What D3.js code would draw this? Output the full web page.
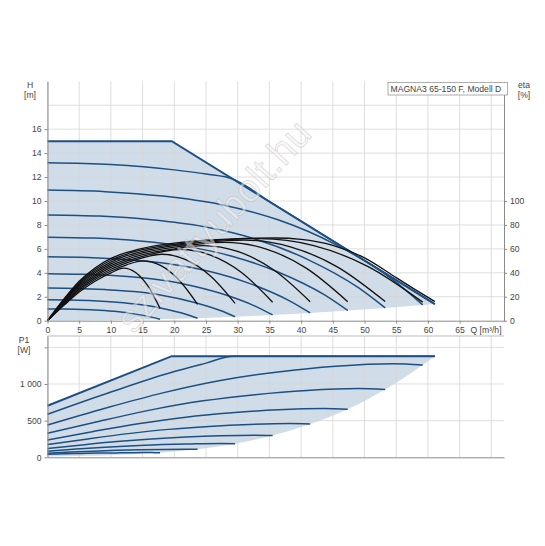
<!DOCTYPE html>
<html>
<head>
<meta charset="utf-8">
<script src="https://cdn.jsdelivr.net/npm/d3@7"></script>
<style>
  body { margin: 0; background: #fff; }
  text { font-family: "Liberation Sans", Arial, sans-serif; }
</style>
</head>
<body>
<div id="chart"></div>
<script>
// ---------- data ----------
// Q-H: limit curve, speed curves, lower limit
const qhMax = [[0, 15], [19.6, 15], [61.1, 1.39]]
const qh11 = [[0, 13.2], [10, 13.05], [20, 12.6], [25, 12.25], [29.3, 11.82], [35, 9.95], [45, 6.67], [55, 3.39], [61.1, 1.39]]
const qh10 = [[0, 10.91], [9.09, 10.78], [18.18, 10.41], [27.27, 9.71], [36.36, 8.43], [45.45, 6.36], [54.55, 3.39], [59.18, 1.32]]
const qh9 = [[0, 8.84], [8.18, 8.74], [16.36, 8.43], [24.55, 7.87], [32.73, 6.83], [40.91, 5.15], [49.09, 2.74], [53.26, 1.07]]
const qh8 = [[0, 6.98], [7.27, 6.9], [14.55, 6.66], [21.82, 6.21], [29.09, 5.39], [36.36, 4.07], [43.64, 2.17], [47.35, 0.85]]
const qh7 = [[0, 5.35], [6.36, 5.29], [12.73, 5.1], [19.09, 4.76], [25.45, 4.13], [31.82, 3.12], [38.18, 1.66], [41.43, 0.65]]
const qh6 = [[0, 3.93], [5.45, 3.88], [10.91, 3.75], [16.36, 3.5], [21.82, 3.03], [27.27, 2.29], [32.73, 1.22], [35.51, 0.48]]
const qh5 = [[0, 2.73], [4.55, 2.7], [9.09, 2.6], [13.64, 2.43], [18.18, 2.11], [22.73, 1.59], [27.27, 0.85], [29.59, 0.33]]
const qh4 = [[0, 1.75], [3.64, 1.73], [7.27, 1.67], [10.91, 1.55], [14.55, 1.35], [18.18, 1.02], [21.82, 0.54], [23.67, 0.21]]
const qh3 = [[0, 0.98], [2.73, 0.97], [5.45, 0.94], [8.18, 0.87], [10.91, 0.76], [13.64, 0.57], [16.36, 0.3], [17.75, 0.12]]
const qhMin = [[0, 0], [17.75, 0.12], [23.67, 0.21], [29.59, 0.33], [35.51, 0.48], [41.43, 0.65], [47.35, 0.85], [53.26, 1.07], [59.18, 1.32], [61.1, 1.39]]

// efficiency (right axis, %)
const eta3 = [[0, 0], [2.5, 12.4], [5, 24], [7.5, 33], [10, 40], [12, 44], [13.9, 40.3], [15.8, 29.3], [17.75, 10.3]]
const eta4 = [[0, 0], [2.5, 13], [5, 25.2], [7.5, 34.4], [10, 41.5], [12.5, 46.7], [15, 50], [17.9, 46], [20.7, 34.2], [23.67, 13.7]]
const eta5 = [[0, 0], [2.5, 13.7], [5, 26.5], [7.5, 35.8], [10, 43], [12.5, 48.3], [15, 52.5], [18, 55.5], [21.8, 51], [25.7, 37.4], [29.59, 14.5]]
const eta6 = [[0, 0], [2.5, 14.4], [5, 27.8], [7.5, 37.2], [10, 44.5], [12.5, 49.8], [15, 53.8], [21, 59.5], [25.8, 54.6], [30.6, 40.3], [35.51, 15.4]]
const eta7 = [[0, 0], [2.5, 15], [5, 29], [7.5, 38.6], [10, 46], [12.5, 51.3], [15, 55.2], [20, 60], [24.5, 62.8], [30.1, 57.7], [35.7, 42.4], [41.43, 15.9]]
const eta8 = [[0, 0], [2.5, 15.7], [5, 30], [7.5, 40], [10, 47.5], [12.5, 52.8], [15, 56.6], [20, 61.4], [28, 65.5], [34.4, 60.1], [40.8, 43.9], [47.35, 15.9]]
const eta9 = [[0, 0], [2.5, 16.3], [5, 31], [7.5, 41.3], [10, 49], [12.5, 54.3], [15, 58], [20, 62.7], [25, 65.6], [31, 67.3], [38.3, 61.7], [45.7, 45], [53.26, 16]]
const eta10 = [[0, 0], [2.5, 17], [5, 32], [7.5, 42.7], [10, 50.5], [12.5, 55.7], [15, 59.3], [20, 63.8], [25, 66.5], [33.5, 68.5], [42, 62.7], [50.5, 45.4], [59.18, 15.5]]
const eta11 = [[0, 0], [2.5, 17.5], [5, 33], [7.5, 44], [10, 52], [12.5, 57], [15, 60.5], [20, 64.8], [25, 67.2], [30, 68.6], [36, 69.1], [40, 68], [45, 63], [50, 52.5], [55, 36], [58, 26], [61.1, 16]]

// P1 power input (W)
const pMax = [[0, 704], [19.6, 1380], [61.1, 1380]]
const p11 = [[0, 586], [10, 890], [20, 1170], [25, 1285], [29.3, 1380], [61.1, 1380]]
const p10 = [[0, 440], [9.09, 669], [18.18, 879], [27.27, 1048], [36.36, 1165], [45.45, 1243], [54.55, 1277], [59.18, 1259]]
const p9 = [[0, 327], [8.18, 493], [16.36, 647], [24.55, 770], [32.73, 855], [40.91, 912], [49.09, 937], [53.26, 924]]
const p8 = [[0, 236], [7.27, 353], [14.55, 461], [21.82, 548], [29.09, 607], [36.36, 648], [43.64, 665], [47.35, 656]]
const p7 = [[0, 173], [6.36, 251], [12.73, 323], [19.09, 381], [25.45, 421], [31.82, 448], [38.18, 460], [41.43, 454]]
const p6 = [[0, 120], [5.45, 169], [10.91, 215], [16.36, 251], [21.82, 277], [27.27, 294], [32.73, 301], [35.51, 297]]
const p5 = [[0, 83], [4.55, 112], [9.09, 138], [13.64, 159], [18.18, 174], [22.73, 183], [27.27, 188], [29.59, 185]]
const p4 = [[0, 56], [3.64, 71], [7.27, 84], [10.91, 95], [14.55, 103], [18.18, 108], [21.82, 110], [23.67, 109]]
const p3 = [[0, 41], [2.73, 47], [5.45, 53], [8.18, 57], [10.91, 60], [13.64, 63], [16.36, 64], [17.75, 63]]
const pMin = [[0, 10], [17.75, 63], [23.67, 109], [29.59, 185], [35.51, 297], [41.43, 454], [47.35, 656], [53.26, 924], [59.18, 1259], [61.1, 1380]]

const qTicks = [0, 5, 10, 15, 20, 25, 30, 35, 40, 45, 50, 55, 60, 65]
const qGrid = [0, 5, 10, 15, 20, 25, 30, 35, 40, 45, 50, 55, 60, 65, 70]
const hTicks = [0, 2, 4, 6, 8, 10, 12, 14, 16]
const hGrid = [2, 4, 6, 8, 10, 12, 14, 16, 18]
const etaTicks = [0, 20, 40, 60, 80, 100]
const pTicks = [0, 500, 1000, 1500]

// ---------- layout ----------
const W = 545, H = 546
const LEFT = 47.5, RIGHT = 504
const TOP1 = 81.3, BOT1 = 320.7
const TOP2 = 336, BOT2 = 457.3

const BLUE = "#1d4f82"
const SHADE = "#d0dde9"
const GRID = "#d6d6d6"
const AXIS = "#8a8a8a"
const TXT = "#444"
const FS = "8.6px"

const svg = d3.select("#chart").append("svg")
  .attr("width", W)
  .attr("height", H)

// scales
const x = d3.scaleLinear().domain([0, 72]).range([LEFT, RIGHT])
const yH = d3.scaleLinear().domain([0, 20]).range([BOT1, TOP1])
const yEta = d3.scaleLinear().domain([0, 200]).range([BOT1, TOP1])
const yP = d3.scaleLinear().domain([0, 1655]).range([BOT2, TOP2])

const smooth = (ys) => d3.line().x(d => x(d[0])).y(d => ys(d[1])).curve(d3.curveMonotoneX)
const straight = (ys) => d3.line().x(d => x(d[0])).y(d => ys(d[1]))

// shaded operating range: lower limit forward, then back over the max curve
function rangePath(minPts, maxPts, ys) {
  let d = smooth(ys)(minPts)
  maxPts.slice().reverse().slice(1).forEach(p => { d += `L${x(p[0])},${ys(p[1])}` })
  return d + "Z"
}

/******************** upper chart: Q-H and eta ********************/
const g1 = svg.append("g")

g1.append("path")
  .attr("d", rangePath(qhMin, qhMax, yH))
  .attr("fill", SHADE)

// grid
g1.selectAll(".vg").data(qGrid).enter().append("line")
  .attr("x1", d => x(d)).attr("x2", d => x(d))
  .attr("y1", TOP1).attr("y2", BOT1)
  .attr("stroke", GRID).attr("stroke-opacity", 0.8)
g1.selectAll(".hg").data(hGrid).enter().append("line")
  .attr("x1", LEFT).attr("x2", RIGHT)
  .attr("y1", d => yH(d)).attr("y2", d => yH(d))
  .attr("stroke", GRID).attr("stroke-opacity", 0.8)

// speed curves
const qhCurves = [qh3, qh4, qh5, qh6, qh7, qh8, qh9, qh10, qh11]
g1.selectAll(".qh").data(qhCurves).enter().append("path")
  .attr("d", smooth(yH))
  .attr("fill", "none")
  .attr("stroke", BLUE)
  .attr("stroke-width", 1.5)
g1.append("path")
  .attr("d", straight(yH)(qhMax))
  .attr("fill", "none")
  .attr("stroke", BLUE)
  .attr("stroke-width", 2)

// efficiency curves
const etaCurves = [eta3, eta4, eta5, eta6, eta7, eta8, eta9, eta10, eta11]
g1.selectAll(".eta").data(etaCurves).enter().append("path")
  .attr("d", smooth(yEta))
  .attr("fill", "none")
  .attr("stroke", "#111")
  .attr("stroke-width", 1.3)

// axes
const styleAxis = sel => {
  sel.selectAll("path").attr("stroke", AXIS)
  sel.selectAll("line").attr("stroke", AXIS)
  sel.selectAll("text").attr("fill", TXT).style("font-size", FS)
}
g1.append("g")
  .attr("transform", `translate(${LEFT},0)`)
  .call(d3.axisLeft(yH).tickValues(hTicks).tickSize(3).tickPadding(3).tickSizeOuter(0))
  .call(styleAxis)
g1.append("g")
  .attr("transform", `translate(${RIGHT},0)`)
  .call(d3.axisRight(yEta).tickValues(etaTicks).tickSize(3).tickPadding(3).tickSizeOuter(0))
  .call(styleAxis)
g1.append("g")
  .attr("transform", `translate(0,${BOT1})`)
  .call(d3.axisBottom(x).tickValues(qTicks).tickSize(3).tickPadding(3).tickSizeOuter(0))
  .call(styleAxis)

// titles
const label = (px, py, t, anchor) => svg.append("text")
  .attr("x", px).attr("y", py)
  .attr("text-anchor", anchor || "middle")
  .attr("fill", TXT).style("font-size", FS)
  .text(t)
label(30, 88, "H")
label(30, 98, "[m]")
label(524, 88, "eta")
label(524, 98, "[%]")
label(470.5, 332.8, "Q [m³/h]", "start")
label(24, 343, "P1")
label(24, 353, "[W]")

// model box
svg.append("rect")
  .attr("x", 388).attr("y", 82.5)
  .attr("width", 119.5).attr("height", 12.5)
  .attr("fill", "#fff")
  .attr("stroke", "#999")
  .attr("stroke-width", 0.8)
label(390.5, 92, "MAGNA3 65-150 F, Modell D", "start")

/******************** lower chart: P1 ********************/
const g2 = svg.append("g")

g2.append("path")
  .attr("d", rangePath(pMin, pMax, yP))
  .attr("fill", SHADE)

g2.selectAll(".vg").data(qGrid).enter().append("line")
  .attr("x1", d => x(d)).attr("x2", d => x(d))
  .attr("y1", TOP2).attr("y2", BOT2)
  .attr("stroke", GRID).attr("stroke-opacity", 0.8)
g2.selectAll(".hg").data(pTicks.slice(1)).enter().append("line")
  .attr("x1", LEFT).attr("x2", RIGHT)
  .attr("y1", d => yP(d)).attr("y2", d => yP(d))
  .attr("stroke", GRID).attr("stroke-opacity", 0.8)
g2.append("line")
  .attr("x1", LEFT).attr("x2", RIGHT)
  .attr("y1", TOP2).attr("y2", TOP2)
  .attr("stroke", "#bbb")

const pCurves = [p3, p4, p5, p6, p7, p8, p9, p10, p11]
g2.selectAll(".p").data(pCurves).enter().append("path")
  .attr("d", smooth(yP))
  .attr("fill", "none")
  .attr("stroke", BLUE)
  .attr("stroke-width", 1.5)
g2.append("path")
  .attr("d", straight(yP)(pMax))
  .attr("fill", "none")
  .attr("stroke", BLUE)
  .attr("stroke-width", 2)

g2.append("g")
  .attr("transform", `translate(${LEFT},0)`)
  .call(d3.axisLeft(yP).tickValues(pTicks).tickSize(3).tickPadding(3).tickSizeOuter(0)
    .tickFormat(d => d === 1500 ? "" : d === 1000 ? "1 000" : d))
  .call(styleAxis)
g2.append("g")
  .attr("transform", `translate(0,${BOT2})`)
  .call(d3.axisBottom(x).tickValues([]).tickSizeOuter(0))
  .call(styleAxis)

// watermark
svg.append("text")
  .attr("transform", "translate(216,228) rotate(-48)")
  .attr("text-anchor", "middle")
  .attr("dominant-baseline", "middle")
  .style("font-size", "39px")
  .attr("fill", "#f2f2f2")
  .attr("fill-opacity", 0.5)
  .attr("stroke", "#a8a8a8")
  .attr("stroke-opacity", 0.45)
  .attr("stroke-width", 0.7)
  .text("szivattyubolt.hu")
</script>
</body>
</html>
